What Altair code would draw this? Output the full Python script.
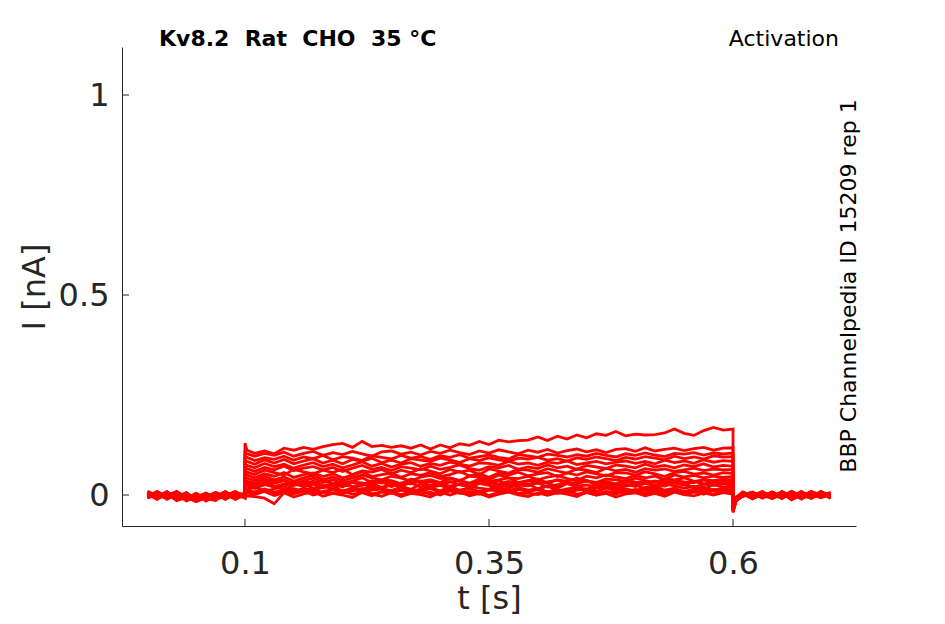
import altair as alt
import pandas as pd

# sample times in ms (step onset at 100 ms, offset at 600 ms)
T_MS = [0, 10, 20, 30, 40, 50, 60, 70, 80, 90, 100,
        100, 102, 110, 120, 130, 140, 150, 160, 170, 180, 190, 200, 210, 220, 230, 240,
        250, 260, 270, 280, 290, 300, 310, 320, 330, 340, 350, 360, 370, 380, 390, 400,
        410, 420, 430, 440, 450, 460, 470, 480, 490, 500, 510, 520, 530, 540, 550, 560,
        570, 580, 590, 600,
        600, 603, 610, 620, 630, 640, 650, 660, 670, 680, 690, 700]

# current of each sweep, in pA (pre 11 | step 52 | post 12)
S01 = [6, -10, 3, -14, -6, 2, -12, -4, 5, -9, 1,
       5, -2, -4, -8, -22, 6, -5, 3, 8, -3, 4, 0, -6, 7, 2, -3, 6, -4, 4, 1,
       -5, 7, 0, 8, -2, 4, -5, 2, 7, 0, -4, 5, -1, 6, 2, -4, 7, 0, 4, -5,
       3, 6, -2, 4, -3, 7, 1, -2, 5, 0, 6, 2,
       -14, -6, 8, -4, 5, -9, 2, -7, 4, -5, 9, -2]
S02 = [-4, 7, -11, 2, -15, -5, 4, -12, -2, 6, -8,
       12, 10, 3, 14, 2, 11, 6, 15, 1, 9, 13, 4, 10, 16, 3, 8, 5, 14, 4, 12,
       1, 10, 15, 6, 9, 2, 13, 10, 16, 4, 7, 14, 2, 11, 5, 12, 15, 3, 9, 2,
       13, 10, 5, 12, 3, 15, 8, 11, 2, 12, 6, 10,
       -16, -8, 4, -10, 2, -6, 7, -12, 0, -4, 6, -9]
S03 = [9, -2, 5, -8, 0, -12, -5, 7, -6, 2, -4,
       17, 13, 20, 10, 15, 22, 8, 17, 12, 19, 23, 9, 15, 7, 19, 16, 11, 20, 9, 15,
       19, 10, 22, 12, 17, 8, 15, 21, 10, 19, 12, 16, 23, 10, 15, 19, 8, 17, 21, 12,
       15, 10, 19, 22, 12, 17, 8, 15, 20, 11, 17, 14,
       -20, -9, 6, -2, 9, -7, 4, -11, 5, 0, -6, 7]
S04 = [-7, 4, -2, 9, -6, -14, 0, -9, 5, -4, 2,
       24, 22, 16, 26, 20, 14, 24, 29, 17, 22, 15, 27, 20, 13, 25, 17, 26, 22, 14, 28,
       19, 24, 16, 29, 22, 17, 14, 26, 19, 24, 28, 15, 22, 17, 29, 20, 14, 24, 27, 17,
       22, 26, 15, 20, 28, 23, 17, 22, 14, 26, 19, 22,
       -22, -10, 2, 7, -5, 4, -9, 5, -2, 7, -7, 3]
S05 = [2, -11, 7, -4, -9, 4, -15, -2, 8, -6, 5,
       30, 28, 23, 33, 21, 28, 32, 25, 35, 23, 28, 20, 32, 30, 25, 34, 21, 30, 28, 35,
       23, 30, 34, 25, 21, 32, 28, 36, 23, 30, 25, 34, 30, 21, 32, 28, 35, 25, 30, 23,
       34, 28, 32, 23, 35, 30, 25, 34, 28, 32, 29, 28,
       -24, -12, 4, -7, 0, 6, -4, 9, -10, 2, -5, 4]
S06 = [-2, 5, -9, 0, -6, -17, -7, 2, -11, 4, -2,
       37, 35, 30, 40, 32, 38, 28, 36, 42, 31, 38, 29, 35, 43, 31, 38, 36, 28, 40, 34,
       38, 31, 42, 36, 29, 40, 34, 38, 43, 31, 36, 40, 30, 38, 34, 42, 36, 31, 40, 38,
       34, 42, 36, 31, 40, 38, 43, 34, 38, 36, 40, 37,
       -26, -13, 0, 5, -7, 2, -2, 7, -9, 4, 0, -5]
S07 = [4, -5, 9, -10, 2, -7, -12, 5, -4, 7, 0,
       44, 42, 36, 47, 38, 45, 35, 43, 49, 38, 45, 36, 42, 50, 43, 38, 47, 42, 35, 45,
       49, 41, 43, 36, 47, 45, 38, 50, 43, 41, 47, 38, 45, 49, 41, 36, 47, 43, 50, 45,
       41, 49, 43, 47, 38, 50, 45, 49, 43, 47, 44, 46,
       -28, -14, 5, -4, 4, -9, 7, 0, -7, 5, -4, 2]
S08 = [-5, 2, -4, 7, -13, -4, 2, -9, 4, -7, 5,
       51, 50, 43, 53, 47, 56, 44, 51, 55, 46, 53, 43, 49, 58, 46, 51, 55, 44, 53, 49,
       56, 46, 51, 59, 48, 53, 44, 55, 50, 57, 48, 53, 56, 46, 55, 50, 58, 53, 48, 56,
       55, 50, 58, 53, 46, 56, 59, 52, 55, 50, 56, 54,
       -30, -14, 2, -5, 7, -2, 4, -10, 5, -4, 7, -2]
S09 = [7, -4, 0, -9, 5, -11, -5, 4, -2, 9, -5,
       60, 57, 51, 62, 56, 50, 64, 58, 53, 62, 56, 65, 51, 60, 57, 64, 53, 62, 56, 66,
       60, 53, 64, 57, 62, 51, 65, 60, 55, 64, 62, 57, 66, 60, 55, 65, 62, 56, 67, 60,
       64, 57, 66, 62, 65, 59, 63, 67, 61, 65, 63, 64,
       -32, -13, -4, 5, -2, 7, -7, 2, -5, 9, 0, -4]
S10 = [0, -7, 5, -2, -10, 4, -9, -14, 7, -4, 2,
       69, 66, 59, 69, 63, 72, 61, 67, 71, 63, 69, 59, 67, 74, 64, 69, 61, 71, 67, 63,
       72, 64, 69, 75, 66, 62, 71, 68, 74, 64, 70, 66, 75, 68, 72, 64, 74, 70, 66, 75,
       72, 68, 77, 70, 74, 68, 75, 71, 78, 70, 74, 72,
       -34, -14, 4, -2, 5, -7, 4, -4, 9, -5, 2, -7]
S11 = [-4, 9, -5, 2, -7, 0, -12, 5, -2, -6, 4,
       77, 74, 68, 79, 71, 77, 67, 75, 81, 71, 77, 68, 75, 83, 72, 79, 70, 77, 81, 72,
       79, 74, 82, 77, 72, 80, 79, 74, 84, 77, 80, 74, 82, 79, 85, 76, 80, 84, 78, 82,
       85, 79, 84, 78, 87, 81, 85, 79, 88, 82, 86, 84,
       -36, -14, 2, -9, 4, 0, -5, 7, -2, 4, -7, 5]
S12 = [5, -2, -7, 4, -4, -9, 2, -5, 9, -11, 0,
       86, 84, 77, 88, 80, 89, 78, 85, 90, 80, 87, 78, 89, 84, 92, 81, 87, 80, 91, 87,
       84, 92, 88, 81, 91, 86, 93, 88, 84, 92, 90, 94, 87, 91, 85, 93, 89, 95, 91, 86,
       94, 90, 96, 92, 88, 97, 91, 95, 90, 98, 95, 96,
       -38, -15, -2, 5, -4, 7, -5, 2, -9, 4, -2, 5]
S13 = [-2, 4, -9, 7, -5, -14, -4, 0, -7, 5, -4,
       96, 94, 86, 93, 89, 97, 87, 95, 91, 99, 88, 96, 92, 86, 98, 94, 90, 99, 92, 96,
       89, 98, 94, 101, 92, 96, 100, 94, 90, 101, 98, 94, 102, 99, 95, 101, 97, 104, 99, 95,
       103, 99, 105, 100, 96, 104, 102, 106, 100, 105, 103, 105,
       -40, -15, 4, -4, 7, -5, 2, -2, 5, -9, 4, -4]
S14 = [2, -5, 5, -4, -12, 2, -7, -2, 4, -9, 2,
       106, 103, 97, 104, 99, 107, 97, 104, 109, 99, 106, 101, 109, 103, 97, 108, 110, 102, 107, 100,
       109, 104, 112, 106, 101, 110, 105, 113, 108, 103, 112, 107, 114, 105, 111, 115, 108, 113, 106, 114,
       116, 109, 118, 110, 114, 117, 111, 116, 119, 112, 117, 118,
       -42, -16, 0, 7, -5, 4, -4, 9, -2, -7, 5, -2]
S15 = [4, -7, 2, -5, 0, -10, -4, 6, -9, 4, -2,
       130, 112, 104, 110, 103, 117, 112, 119, 114, 121, 126, 129, 119, 134, 121, 124, 119, 123, 117, 125,
       115, 125, 118, 128, 124, 134, 126, 137, 133, 136, 137, 145, 136, 147, 140, 150, 143, 153, 149, 159,
       148, 152, 150, 151, 155, 165, 154, 149, 161, 169, 162, 165,
       -44, -16, 5, -2, 4, -7, 9, -4, 2, -5, 7, -2]
S16 = [-8, 3, -5, 6, -12, -2, -7, 1, -10, 3, -3,
       7, 5, 1, 9, -1, 6, 3, 10, 0, 7, 4, 11, 2, 6, -2, 8, 5, 1, 9, 3,
       7, 0, 10, 4, 2, 8, -1, 6, 9, 3, 5, 1, 8, 4, 10, 2, 6, 0, 7, 9,
       3, 6, 1, 8, 4, 10, 2, 7, 5, 3, 8, 6,
       -13, -5, -3, 6, -8, 3, -1, -6, 7, -3, 1, 4]
S17 = [3, -9, 6, -3, 2, -13, 4, -6, 0, -10, 6,
       13, 11, 8, 15, 7, 12, 16, 9, 13, 6, 14, 10, 17, 8, 12, 15, 7, 11, 14, 9,
       16, 8, 13, 11, 17, 7, 12, 15, 9, 14, 10, 16, 8, 13, 6, 15, 11, 9, 17, 12,
       8, 14, 11, 16, 9, 13, 7, 15, 10, 14, 12, 11,
       -17, -7, 7, -1, -5, 8, -3, 4, -8, 2, -2, 6]
S18 = [-6, 1, -3, 8, -9, -5, 5, -11, 2, -1, -7,
       26, 25, 21, 29, 19, 25, 28, 22, 27, 18, 26, 30, 21, 24, 28, 19, 27, 23, 30, 20,
       25, 28, 22, 27, 19, 29, 24, 21, 28, 25, 23, 30, 20, 26, 29, 22, 25, 19, 28, 24,
       27, 21, 29, 24, 22, 30, 26, 20, 27, 24, 28, 25,
       -23, -11, -2, 6, -3, -7, 4, 1, -6, 8, -4, 0]
S19 = [5, -8, 1, -4, 6, -12, -1, 3, -8, 6, -1,
       33, 32, 27, 35, 29, 36, 27, 33, 30, 37, 28, 34, 31, 26, 36, 30, 33, 28, 37, 31,
       34, 27, 32, 36, 29, 35, 31, 27, 34, 30, 36, 29, 33, 37, 28, 32, 35, 30, 34, 28,
       37, 32, 30, 35, 29, 36, 33, 31, 38, 32, 35, 33,
       -25, -12, 6, -5, 3, -1, 6, -8, 2, -3, 5, -6]

SWEEPS = [S01, S16, S02, S17, S03, S04, S18, S05, S19, S06, S07, S08, S09, S10,
          S11, S12, S13, S14, S15]

X_TICKS = [0.1, 0.35, 0.6]
Y_TICKS = [0, 0.5, 1]

NB = "\u00a0"
TITLE_LEFT = f"Kv8.2{NB}{NB}Rat{NB}{NB}CHO{NB}{NB}35{NB}°C"
TITLE_RIGHT = "Activation"
SIDE_TEXT = "BBP Channelpedia ID 15209 rep 1"

rows = []
for k, vals in enumerate(SWEEPS):
    for i, (t, v) in enumerate(zip(T_MS, vals)):
        rows.append({"sweep": k, "i": i, "t": t / 1000.0, "I": v / 1000.0})
df = pd.DataFrame(rows)

W, H = 734, 479
FONT = "DejaVu Sans"
INK = "#262626"

x_scale = alt.Scale(domain=[-0.026, 0.726], nice=False, zero=False)
y_scale = alt.Scale(domain=[-0.0775, 1.12], nice=False, zero=False)
x_axis = alt.Axis(values=X_TICKS, labelExpr="format(datum.value, '.2~f')", title="t [s]",
                  labelPadding=22, titlePadding=4)
y_axis = alt.Axis(values=Y_TICKS, labelExpr="format(datum.value, '.1~f')", title="I [nA]",
                  labelPadding=13, titlePadding=7)

lines = alt.Chart(df).mark_line(color="#ff0000", strokeWidth=2.8).encode(
    x=alt.X("t:Q", scale=x_scale, axis=x_axis),
    y=alt.Y("I:Q", scale=y_scale, axis=y_axis),
    detail="sweep:N",
    order="i:Q",
)

xt = alt.Chart(pd.DataFrame({"t": X_TICKS})).mark_rule(color=INK, strokeWidth=1).encode(
    x=alt.X("t:Q", scale=x_scale, axis=x_axis),
    y=alt.value(H), y2=alt.value(H - 7),
)
yt = alt.Chart(pd.DataFrame({"I": Y_TICKS})).mark_rule(color=INK, strokeWidth=1).encode(
    y=alt.Y("I:Q", scale=y_scale, axis=y_axis),
    x=alt.value(0), x2=alt.value(7),
)

t_left = alt.Chart(pd.DataFrame({"s": [TITLE_LEFT]})).mark_text(
    font=FONT, fontSize=22, fontWeight="bold", color="#000000",
    align="left", baseline="alphabetic").encode(
    text="s:N", x=alt.value(37), y=alt.value(-1))
t_right = alt.Chart(pd.DataFrame({"s": [TITLE_RIGHT]})).mark_text(
    font=FONT, fontSize=22, color="#000000",
    align="right", baseline="alphabetic").encode(
    text="s:N", x=alt.value(717), y=alt.value(-1))
t_side = alt.Chart(pd.DataFrame({"s": [SIDE_TEXT]})).mark_text(
    font=FONT, fontSize=22, color="#000000", angle=270,
    align="center", baseline="middle").encode(
    text="s:N", x=alt.value(727), y=alt.value(239))

chart = alt.layer(lines, xt, yt, t_left, t_right, t_side).properties(
    width=W, height=H,
    autosize=alt.AutoSizeParams(type="none"),
    padding={"left": 114, "top": 39, "right": 75, "bottom": 90},
).configure_view(stroke=None).configure_axis(
    grid=False, ticks=False,
    domainColor=INK, domainWidth=1,
    labelColor=INK, titleColor=INK,
    labelFont=FONT, titleFont=FONT,
    labelFontSize=32, titleFontSize=32, titleFontWeight="normal",
)

chart.save("out.html", embed_options={"renderer": "svg", "actions": False})
